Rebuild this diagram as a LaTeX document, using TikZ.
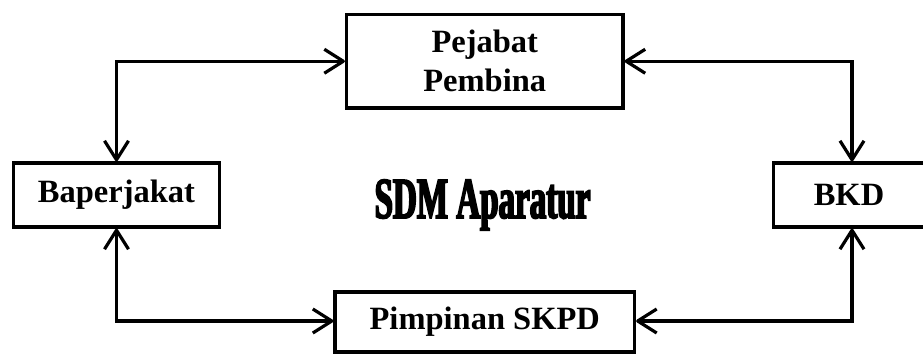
\documentclass[tikz,border=0pt]{standalone}
\usepackage{fontspec}
\setmainfont{Liberation Serif}
\newfontfamily\sdmfont[FakeStretch=0.57,FakeBold=3]{Liberation Serif Bold}
\usetikzlibrary{arrows.meta}
\begin{document}
\begin{tikzpicture}[x=1pt,y=-1pt,
  box/.style={draw,line width=3.2pt,inner sep=0pt,align=center,
    font=\fontsize{32.5}{39}\selectfont\bfseries},
  link/.style={line width=3.2pt,{Straight Barb[length=19pt,width=24pt,line join=round]}-{Straight Barb[length=19pt,width=24pt,line join=round]}}]
\useasboundingbox (0,0) rectangle (923,354);
\node[box,minimum width=276.5pt,minimum height=93.5pt] (pej) at (484.75,61.25) {Pejabat\\Pembina};
\node[box,minimum width=206pt,minimum height=64pt] (bap) at (116.5,195) {Baperjakat};
\node[box,minimum width=151pt,minimum height=64pt] (bkd) at (849,195) {BKD};
\node[box,minimum width=299.5pt,minimum height=60pt] (pim) at (484.75,322) {Pimpinan SKPD};
\node[inner sep=0pt,anchor=base] (sdm) at (482.5,218) {\sdmfont\fontsize{58}{60}\selectfont SDM Aparatur};
\coordinate (bkdn) at ([xshift=3pt]bkd.north);
\coordinate (bkds) at ([xshift=3pt]bkd.south);
\draw[link] (bap.north) -- (bap.north |- pej.west) -- (pej.west);
\draw[link] (pej.east) -- (pej.east -| bkdn) -- (bkdn);
\draw[link] (bap.south) -- ([yshift=1pt]bap.south |- pim.west) -- ([yshift=1pt]pim.west);
\draw[link] (bkds) -- ([yshift=1pt]bkds |- pim.east) -- ([yshift=1pt]pim.east);
\end{tikzpicture}
\end{document}
